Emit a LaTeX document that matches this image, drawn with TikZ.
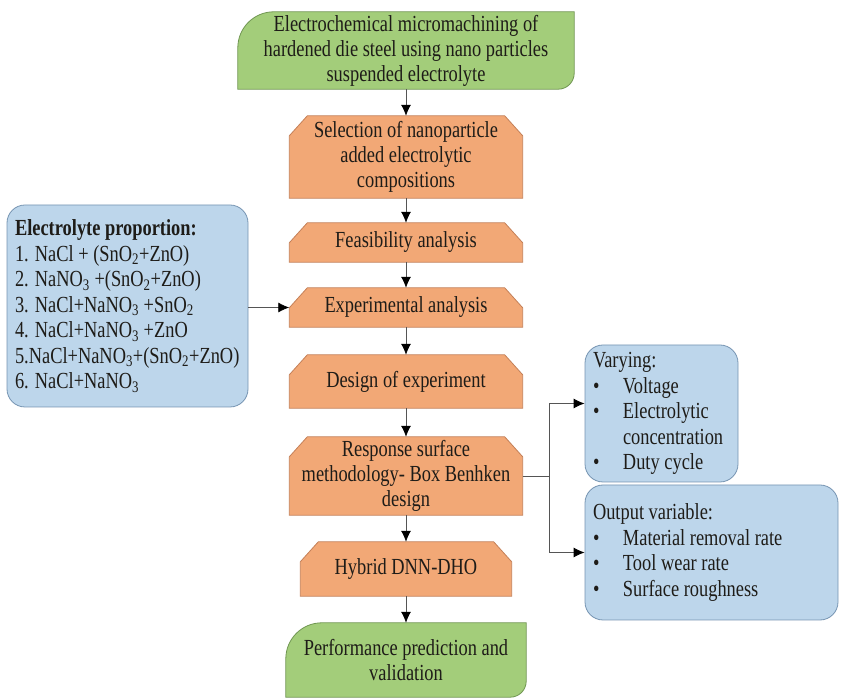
\documentclass[tikz,border=0pt]{standalone}
\usepackage{fontspec}
\setmainfont{Liberation Serif}[FakeStretch=0.8]
\usetikzlibrary{arrows.meta,positioning,backgrounds,calc}

\definecolor{termgreen}{RGB}{163,205,122}
\definecolor{termedge}{RGB}{112,150,82}
\definecolor{procorange}{RGB}{242,168,118}
\definecolor{procedge}{RGB}{196,128,88}
\definecolor{infoblue}{RGB}{189,214,235}
\definecolor{infoedge}{RGB}{118,148,178}
\definecolor{linegray}{RGB}{85,85,85}
\definecolor{inkdark}{RGB}{30,28,24}

\tikzset{
  boxtext/.style={font=\fontsize{23}{25}\selectfont, text=inkdark, align=center, inner sep=0pt},
  termbox/.style={boxtext},
  procbox/.style={boxtext, minimum width=233pt},
  infobox/.style={draw=infoedge, fill=infoblue, line width=0.8pt, rounded corners=18pt,
    font=\fontsize{23}{25.5}\selectfont, text=inkdark, align=flush left, inner xsep=8pt, inner ysep=4pt},
  flow/.style={draw=linegray, line width=0.8pt, -{Latex[length=11pt,width=10pt,black]}}
}

% green terminal shape: rounded top left and bottom right
\newcommand{\termshape}[1]{%
  \draw[termedge, fill=termgreen, line width=0.8pt]
    (#1.north east) -- ([yshift=16pt]#1.south east)
    arc[start angle=0, end angle=-90, radius=16pt]
    -- (#1.south west) -- ([yshift=-36pt]#1.north west)
    arc[start angle=180, end angle=90, radius=36pt] -- cycle;}

% orange process shape: both top corners cut off
\newcommand{\procshape}[1]{%
  \draw[procedge, fill=procorange, line width=0.8pt]
    ([xshift=18pt]#1.north west) -- ([xshift=-18pt]#1.north east)
    -- ([yshift=-20pt]#1.north east) -- (#1.south east) -- (#1.south west)
    -- ([yshift=-20pt]#1.north west) -- cycle;}

\newcommand{\itm}{\makebox[30pt][l]{\textbullet}}

\begin{document}
\begin{tikzpicture}[x=1pt, y=1pt]
    \useasboundingbox (0,0) rectangle (841,699);

    % Main flow
    \node[termbox, minimum width=336pt, minimum height=77pt] (top) at (406,648.5)
        {Electrochemical micromachining of\\hardened die steel using nano particles\\suspended electrolyte};
    \node[procbox, minimum height=82pt] (sel) at (406,542)
        {Selection of nanoparticle\\added electrolytic\\compositions};
    \node[procbox, minimum height=39pt] (feas) at (406,456.5) {Feasibility analysis};
    \node[procbox, minimum height=39pt] (expt) at (406,391.5) {Experimental analysis};
    \node[procbox, minimum height=53pt] (doe) at (406,317.5) {Design of experiment};
    \node[procbox, minimum height=78pt] (rsm) at (406,223)
        {Response surface\\methodology- Box Benhken\\design};
    \node[procbox, minimum width=211pt, minimum height=54pt] (hyb) at (406,130) {Hybrid DNN-DHO};
    \node[termbox, minimum width=240pt, minimum height=74pt] (perf) at (406,39)
        {Performance prediction and\\validation};

    % Side boxes
    \node[infobox, text width=225pt, minimum height=202pt] (elec) at (127.5,393)
        {\textbf{Electrolyte proportion:}\\
         1. NaCl + (SnO\textsubscript{2}+ZnO)\\
         2. NaNO\textsubscript{3} +(SnO\textsubscript{2}+ZnO)\\
         3. NaCl+NaNO\textsubscript{3} +SnO\textsubscript{2}\\
         4. NaCl+NaNO\textsubscript{3} +ZnO\\
         5.NaCl+NaNO\textsubscript{3}+(SnO\textsubscript{2}+ZnO)\\
         6. NaCl+NaNO\textsubscript{3}};
    \node[infobox, text width=137pt, minimum height=137pt] (vary) at (661.5,285.5)
        {Varying:\\
         \itm Voltage\\
         \itm Electrolytic\\
         \hspace*{30pt}concentration\\
         \itm Duty cycle};
    \node[infobox, text width=237pt, minimum height=135pt] (outv) at (711.5,146.5)
        {Output variable:\\
         \itm Material removal rate\\
         \itm Tool wear rate\\
         \itm Surface roughness};

    % Box outlines behind the text
    \begin{scope}[on background layer]
        \termshape{top}
        \termshape{perf}
        \foreach \b in {sel,feas,expt,doe,rsm,hyb}
            \procshape{\b};
    \end{scope}

    % Arrows down the main flow
    \foreach \a/\b in {top/sel, sel/feas, feas/expt, expt/doe, doe/rsm, rsm/hyb, hyb/perf}
        \draw[flow] (\a) -- (\b);

    % Input and output branches
    \draw[flow] (elec.east |- expt.west) -- (expt.west);
    \coordinate (split) at ([xshift=27pt]rsm.east);
    \draw[flow] (rsm.east) -- (split) |- ([yshift=10pt]vary.west);
    \draw[flow] (split) |- (outv.west);

\end{tikzpicture}
\end{document}
